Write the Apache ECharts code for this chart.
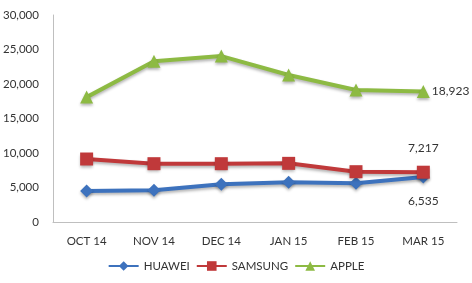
<!DOCTYPE html>
<html><head><meta charset="utf-8">
<script src="https://cdn.jsdelivr.net/npm/echarts@6/dist/echarts.min.js"></script>
<style>html,body{margin:0;padding:0;background:#fff}#c{width:472px;height:283px}</style>
</head><body><div id="c"></div>
<script>
const categories = ['OCT 14','NOV 14','DEC 14','JAN 15','FEB 15','MAR 15'];
const huawei = [4490, 4590, 5460, 5750, 5600, 6535];
const samsung = [9130, 8450, 8450, 8500, 7290, 7217];
const apple = [18100, 23300, 24050, 21300, 19130, 18923];
const yTicks = [0, 5000, 10000, 15000, 20000, 25000, 30000];

const font = 'Lato, "Open Sans", sans-serif';
const fs = 11.5;
const fmt = v => v.toLocaleString('en-US');
function lastLabel(pos, dist) {
  return {show: true, position: pos, formatter: p => p.dataIndex === categories.length - 1 ? fmt(p.value) : '',
    color: '#333', fontSize: 12, fontFamily: font, distance: dist};
}
function mk(name, data, color, symbol, size, pos, dist) {
  return {name, type: 'line', data, symbol, symbolSize: size, showSymbol: true,
    lineStyle: {color, width: 4, shadowColor: 'rgba(0,0,0,0.3)', shadowBlur: 3, shadowOffsetY: 2},
    itemStyle: {color, shadowColor: 'rgba(0,0,0,0.3)', shadowBlur: 3, shadowOffsetY: 2},
    label: lastLabel(pos, dist), animation: false, z: 2};
}
const chart = echarts.init(document.getElementById('c'));
chart.setOption({
  animation: false,
  grid: {left: 50, right: 15, top: 15, bottom: 61},
  legend: {bottom: 6, left: 'center', itemWidth: 30, itemHeight: 12, itemGap: 6,
    textStyle: {color: '#333', fontSize: fs, fontFamily: font},
    data: ['HUAWEI','SAMSUNG','APPLE']},
  xAxis: {type: 'category', data: categories, boundaryGap: true,
    axisLine: {lineStyle: {color: '#bfbfbf'}}, axisTick: {show: false},
    axisLabel: {color: '#333', fontSize: fs, fontFamily: font, margin: 13}},
  yAxis: {type: 'value', min: yTicks[0], max: yTicks[yTicks.length-1], interval: 5000,
    axisLine: {show: true, lineStyle: {color: '#bfbfbf'}}, axisTick: {show: false},
    splitLine: {show: false},
    axisLabel: {color: '#333', fontSize: fs, fontFamily: font, formatter: v => fmt(v), margin: 14}},
  series: [
    mk('HUAWEI', huawei, '#3d72bd', 'diamond', 13, 'bottom', 12),
    mk('SAMSUNG', samsung, '#c0393a', 'rect', 13, 'top', 12),
    mk('APPLE', apple, '#8dba43', 'triangle', 13, 'right', 2)
  ]
});
</script></body></html>
